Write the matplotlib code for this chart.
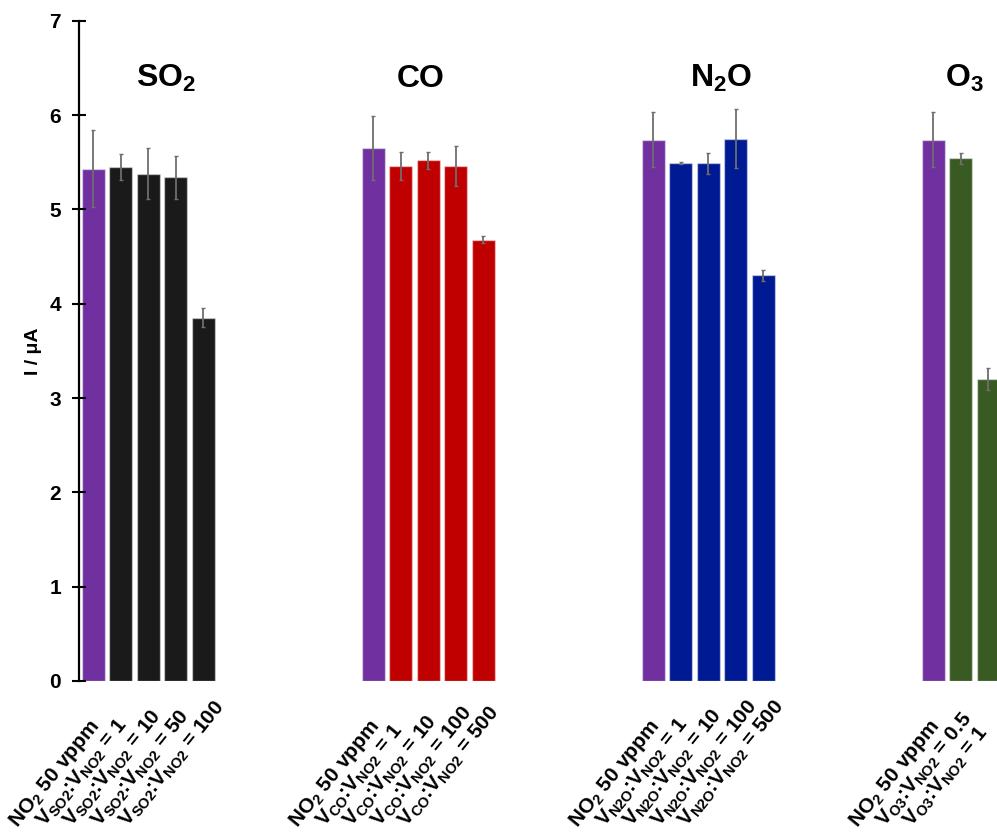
import matplotlib
matplotlib.use("Agg")
import matplotlib.pyplot as plt
import numpy as np

plt.rcParams["font.family"] = ["Liberation Sans", "DejaVu Sans"]
plt.rcParams["font.weight"] = "bold"
plt.rcParams["mathtext.fontset"] = "custom"
plt.rcParams["mathtext.rm"] = "Liberation Sans:bold"
plt.rcParams["mathtext.it"] = "Liberation Sans:bold"
plt.rcParams["mathtext.bf"] = "Liberation Sans:bold"

# ---- data -------------------------------------------------------------
gas_titles = ["SO$_2$", "CO", "N$_2$O", "O$_3$"]

so2_values = [5.43, 5.45, 5.38, 5.34, 3.85]
so2_errors = [0.41, 0.14, 0.27, 0.23, 0.10]
so2_labels = ["NO$_2$ 50 vppm",
              "V$_{SO2}$:V$_{NO2}$ = 1",
              "V$_{SO2}$:V$_{NO2}$ = 10",
              "V$_{SO2}$:V$_{NO2}$ = 50",
              "V$_{SO2}$:V$_{NO2}$ = 100"]

co_values = [5.65, 5.46, 5.52, 5.46, 4.68]
co_errors = [0.34, 0.15, 0.09, 0.21, 0.04]
co_labels = ["NO$_2$ 50 vppm",
             "V$_{CO}$:V$_{NO2}$ = 1",
             "V$_{CO}$:V$_{NO2}$ = 10",
             "V$_{CO}$:V$_{NO2}$ = 100",
             "V$_{CO}$:V$_{NO2}$ = 500"]

n2o_values = [5.74, 5.49, 5.49, 5.75, 4.30]
n2o_errors = [0.29, 0.01, 0.11, 0.31, 0.06]
n2o_labels = ["NO$_2$ 50 vppm",
              "V$_{N2O}$:V$_{NO2}$ = 1",
              "V$_{N2O}$:V$_{NO2}$ = 10",
              "V$_{N2O}$:V$_{NO2}$ = 100",
              "V$_{N2O}$:V$_{NO2}$ = 500"]

o3_values = [5.74, 5.54, 3.20]
o3_errors = [0.29, 0.06, 0.12]
o3_labels = ["NO$_2$ 50 vppm",
             "V$_{O3}$:V$_{NO2}$ = 0.5",
             "V$_{O3}$:V$_{NO2}$ = 1"]

y_ticks = [0, 1, 2, 3, 4, 5, 6, 7]

# ---- styling ----------------------------------------------------------
reference_color = "#7030A0"
gas_colors = ["#1A1A1A", "#C00000", "#001A94", "#3A5A24"]
group_spacing = 10.16
bar_width = 0.836
title_offsets = [2.65, 1.74, 2.47, 1.14]

groups = [
    (so2_values, so2_errors, so2_labels),
    (co_values, co_errors, co_labels),
    (n2o_values, n2o_errors, n2o_labels),
    (o3_values, o3_errors, o3_labels),
]

W, H = 997, 832
fig = plt.figure(figsize=(W / 100, H / 100), dpi=100)
ax_left, ax_right = 78.7, 997.0
ax_top, ax_bottom = 20.7, 681.0
ax = fig.add_axes([ax_left / W, (H - ax_bottom) / H,
                   (ax_right - ax_left) / W, (ax_bottom - ax_top) / H])

for g, (vals, errs, labs) in enumerate(groups):
    x0 = g * group_spacing
    xs = x0 + np.arange(len(vals))
    cols = [reference_color] + [gas_colors[g]] * (len(vals) - 1)
    ax.bar(xs, vals, width=bar_width, color=cols,
           edgecolor=(1, 1, 1, 0.45), linewidth=1.0,
           yerr=errs,
           error_kw=dict(ecolor="#6E6E6E", elinewidth=1.3,
                         capsize=1.6, capthick=1.0))
    for xi, lab in zip(xs, labs):
        ax.annotate(lab, xy=(xi, 0), xycoords=("data", "axes fraction"),
                    xytext=(-76, -147), textcoords="offset pixels",
                    rotation=51, rotation_mode="anchor",
                    ha="left", va="baseline",
                    fontsize=15, fontweight="bold", annotation_clip=False)
    ax.text(x0 + title_offsets[g], 6.30, gas_titles[g],
            ha="center", va="baseline", fontsize=23, fontweight="bold")

ax.set_xlim(-0.526, 32.8)
ax.set_ylim(0, 7)
ax.set_yticks(y_ticks)
ax.set_xticks([])

for side in ["top", "right", "bottom"]:
    ax.spines[side].set_visible(False)
ax.spines["left"].set_linewidth(1.6)
ax.tick_params(axis="y", direction="inout", length=9.5, width=1.5,
               labelsize=15, pad=8)
for t in ax.get_yticklabels():
    t.set_fontweight("bold")

ax.set_ylabel("I / μA", fontsize=14, fontweight="bold")
ax.yaxis.set_label_coords(-0.040, 0.5)

fig.savefig("out.png", dpi=100)
